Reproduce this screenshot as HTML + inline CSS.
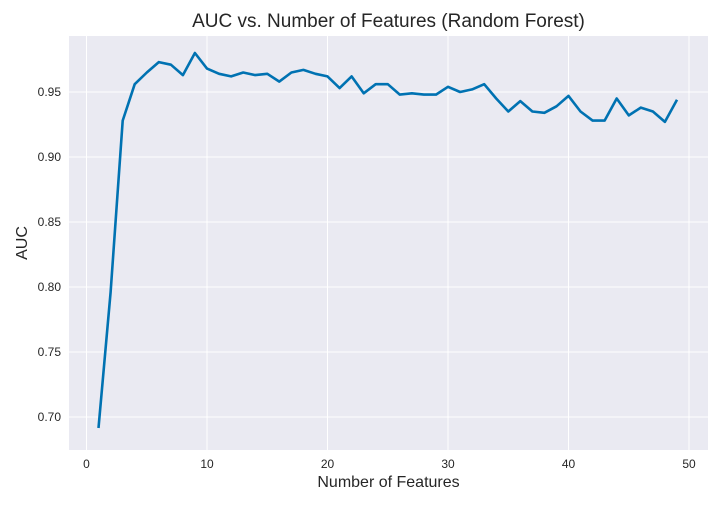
<!DOCTYPE html>
<html><head><meta charset="utf-8"><style>
body{margin:0;background:#fff;font-family:"Liberation Sans",sans-serif}
</style></head><body>
<svg id="chart" width="720" height="504" xmlns="http://www.w3.org/2000/svg" font-family="Liberation Sans, sans-serif"></svg>
<script>
const features=[1,2,3,4,5,6,7,8,9,10,11,12,13,14,15,16,17,18,19,20,21,22,23,24,25,26,27,28,29,30,31,32,33,34,35,36,37,38,39,40,41,42,43,44,45,46,47,48,49];
const aucValues=[0.6915,0.796,0.928,0.956,0.965,0.973,0.971,0.963,0.980,0.968,0.964,0.962,0.965,0.963,0.964,0.958,0.965,0.967,0.964,0.962,0.953,0.962,0.949,0.956,0.956,0.948,0.949,0.948,0.948,0.954,0.950,0.952,0.956,0.945,0.935,0.943,0.935,0.934,0.939,0.947,0.935,0.928,0.928,0.945,0.932,0.938,0.935,0.927,0.944];
const xTicks=[0,10,20,30,40,50];
const yTicks=[0.70,0.75,0.80,0.85,0.90,0.95];
const svg=document.getElementById('chart');
const NS='http://www.w3.org/2000/svg';
const L=69,R=708,T=36,B=450;
const xs=v=>86.5+v*12.05;
const ys=v=>92+(0.95-v)/0.05*65;
function mk(tag,attrs,parent){const e=document.createElementNS(NS,tag);for(const k in attrs)e.setAttribute(k,attrs[k]);(parent||svg).appendChild(e);return e;}
const bg=mk('rect',{x:L,y:T,width:R-L,height:B-T,fill:'#eaeaf2'});


xTicks.forEach(t=>{
  const g=mk('line',{x1:xs(t),x2:xs(t),y1:T,y2:B,stroke:'#fff','stroke-width':1});
  
  
  const tx=mk('text',{x:xs(t),y:B+18,'text-anchor':'middle','font-size':12,fill:'#262626'});
  tx.textContent=t;
  
  
});
yTicks.forEach(t=>{
  const g=mk('line',{x1:L,x2:R,y1:ys(t),y2:ys(t),stroke:'#fff','stroke-width':1});
  
  
  const tx=mk('text',{x:L-8,y:ys(t)+4,'text-anchor':'end','font-size':12,fill:'#262626'});
  tx.textContent=t.toFixed(2);
  
  
});
const pts=features.map((f,i)=>xs(f).toFixed(1)+','+ys(aucValues[i]).toFixed(1)).join(' ');
const line=mk('polyline',{points:pts,fill:'none',stroke:'#0072b2','stroke-width':2.6,'stroke-linejoin':'round'});


const title=mk('text',{x:(L+R)/2,y:27,'text-anchor':'middle','font-size':19,fill:'#262626'});
title.textContent='AUC vs. Number of Features (Random Forest)';


const xl=mk('text',{x:(L+R)/2,y:487,'text-anchor':'middle','font-size':16,fill:'#262626'});
xl.textContent='Number of Features';


const yl=mk('text',{x:0,y:0,'text-anchor':'middle','font-size':16,fill:'#262626',transform:'translate(27,'+((T+B)/2)+') rotate(-90)'});
yl.textContent='AUC';


</script>
</body></html>
